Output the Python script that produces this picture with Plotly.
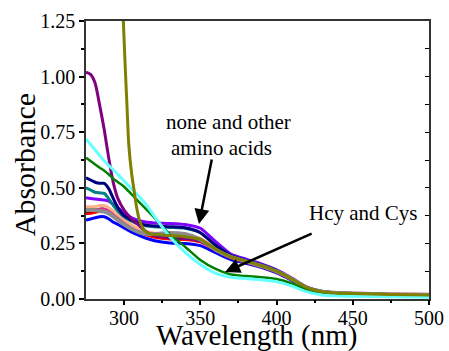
import plotly.graph_objects as go

# Wavelength grid (nm) shared by most spectra
wavelength = [275, 278, 281, 284, 287, 290, 293, 296, 300, 305, 310, 315, 320, 330, 340,
              350, 360, 370, 380, 390, 400, 410, 420, 430, 440, 450, 475, 500]

blue = [.355, .36, .365, .37, .37, .36, .345, .335, .32, .30, .285, .272, .262, .252, .25,
        .24, .208, .177, .161, .142, .117, .084, .047, .03, .025, .022, .018, .016]
red = [.385, .385, .39, .395, .395, .385, .37, .355, .335, .315, .30, .287, .278, .27, .268,
       .257, .22, .185, .166, .146, .121, .087, .05, .032, .026, .023, .019, .017]
black = [.395, .395, .40, .405, .405, .395, .38, .363, .342, .32, .305, .293, .285, .277, .274,
         .263, .223, .187, .167, .147, .122, .088, .05, .032, .026, .024, .02, .017]
magenta = [.40, .40, .40, .405, .405, .395, .38, .365, .345, .323, .308, .297, .29, .282, .28,
           .268, .226, .19, .17, .15, .125, .09, .052, .035, .03, .027, .024, .022]
peach = [.415, .415, .415, .42, .42, .41, .395, .378, .357, .333, .315, .303, .296, .29, .287,
         .272, .228, .19, .17, .15, .126, .09, .051, .033, .027, .025, .021, .018]
violet = [.455, .452, .45, .447, .445, .44, .425, .41, .385, .365, .352, .345, .342, .34, .335,
          .318, .258, .202, .179, .158, .131, .094, .053, .034, .028, .025, .02, .018]
teal = [.50, .49, .48, .477, .475, .45, .42, .395, .37, .35, .335, .328, .325, .322, .318,
        .298, .242, .196, .173, .153, .128, .091, .051, .033, .027, .024, .02, .017]
navy = [.545, .535, .525, .52, .52, .495, .45, .41, .375, .355, .34, .332, .328, .325, .32,
        .298, .242, .196, .173, .153, .128, .091, .051, .033, .027, .024, .02, .017]
purple = [1.02, 1.01, .97, .87, .76, .63, .52, .45, .40, .36, .33, .30, .285, .275, .272,
          .26, .222, .187, .168, .148, .123, .089, .05, .032, .026, .023, .019, .017]
grey = [.40, .40, .40, .395, .393, .385, .37, .355, .335, .315, .30, .293, .292, .297, .292,
        .267, .221, .189, .169, .149, .124, .09, .05, .033, .027, .025, .02, .018]
green = [.635, .62, .605, .59, .577, .56, .54, .525, .505, .47, .435, .40, .365, .29, .235,
         .175, .135, .11, .103, .098, .09, .07, .04, .025, .02, .018, .015, .012]
cyan = [.72, .695, .67, .645, .62, .60, .58, .56, .53, .495, .46, .42, .37, .28, .21,
        .155, .115, .098, .092, .086, .078, .058, .032, .018, .014, .012, .01, .008]

olive_wavelength = [296, 298, 299.5, 300.5, 302, 303, 305, 306.5, 308, 310, 313, 316, 320, 330,
                    340, 350, 360, 370, 380, 390, 400, 410, 420, 430, 440, 450, 475, 500]
olive = [2.2, 1.6, 1.25, 1.08, .85, .70, .56, .49, .42, .355, .31, .295, .29, .285,
         .28, .268, .225, .19, .17, .15, .125, .09, .05, .033, .027, .025, .02, .018]

x_ticks = [300, 350, 400, 450, 500]
y_ticks = [0, 0.25, 0.5, 0.75, 1.0, 1.25]
y_tick_labels = ["0.00", "0.25", "0.50", "0.75", "1.00", "1.25"]

series = [
    (blue, "#0000FF", 3), (red, "#FF0000", 3), (black, "#400000", 2.5),
    (magenta, "#E0308F", 2.5), (peach, "#FFB088", 3), (violet, "#8000FF", 3),
    (teal, "#008080", 3), (navy, "#000080", 3), (purple, "#800080", 3),
    (grey, "#8C8C8C", 4), (green, "#008000", 2.5), (cyan, "#66FFFF", 3),
]

fig = go.Figure()
for ys, col, w in series:
    fig.add_trace(go.Scatter(x=wavelength, y=ys, mode="lines",
                             line=dict(color=col, width=w, shape="spline", smoothing=0.6),
                             showlegend=False, hoverinfo="skip"))
fig.add_trace(go.Scatter(x=olive_wavelength, y=olive, mode="lines",
                         line=dict(color="#808000", width=3, shape="spline", smoothing=0.4),
                         showlegend=False, hoverinfo="skip"))
# invisible helper traces so the tick-only axes are drawn
fig.add_trace(go.Scatter(x=[275], y=[0], yaxis="y2", mode="markers",
                         marker=dict(opacity=0), showlegend=False, hoverinfo="skip"))
fig.add_trace(go.Scatter(x=[275], y=[0], xaxis="x2", mode="markers",
                         marker=dict(opacity=0), showlegend=False, hoverinfo="skip"))

FONT = "Times New Roman"
TF = dict(family=FONT, size=20, color="black")

fig.update_layout(
    width=449, height=351,
    margin=dict(l=86, r=20, t=21, b=52),
    paper_bgcolor="white", plot_bgcolor="white",
    font=dict(family=FONT, color="black", size=20),
    xaxis=dict(range=[275, 500], tickvals=x_ticks, automargin=False, ticks="",
               showline=True, linecolor="#333", linewidth=1.5, mirror=True,
               showgrid=False, zeroline=False, tickfont=TF),
    xaxis2=dict(range=[275, 500], overlaying="x", side="bottom", anchor="y",
                tickvals=x_ticks, showticklabels=False, automargin=False,
                ticks="outside", ticklen=5, tickwidth=1.5, tickcolor="black",
                minor=dict(tickvals=[325, 375, 425, 475], ticks="outside", ticklen=3,
                           tickcolor="black"),
                showline=False, showgrid=False, zeroline=False),
    yaxis=dict(range=[0, 1.25], tickvals=y_ticks, ticktext=y_tick_labels, automargin=False,
               ticks="outside", ticklen=5, tickwidth=1.5, tickcolor="black",
               minor=dict(tickvals=[0.125, 0.375, 0.625, 0.875, 1.125], ticks="outside",
                          ticklen=3, tickcolor="black"),
               showline=True, linecolor="#333", linewidth=1.5, mirror=True,
               showgrid=False, zeroline=False, tickfont=TF),
    yaxis2=dict(range=[0, 1.25], overlaying="y", side="right", showticklabels=False,
                tickvals=[0.125, 0.25, 0.375, 0.5, 0.625, 0.75, 0.875, 1.0, 1.125],
                ticks="inside", ticklen=4, tickcolor="black", showgrid=False,
                zeroline=False, showline=False, automargin=False),
)

# axis titles
fig.add_annotation(xref="paper", yref="paper", x=0.4985, y=-0.133, text="Wavelength (nm)",
                   showarrow=False, font=dict(family=FONT, size=29, color="black"),
                   xanchor="center", yanchor="middle")
fig.add_annotation(xref="paper", yref="paper", x=-0.18, y=0.482, text="Absorbance",
                   textangle=-90, showarrow=False,
                   font=dict(family=FONT, size=30, color="black"),
                   xanchor="center", yanchor="middle")

ann_font = dict(family=FONT, size=21, color="black")
fig.add_annotation(x=368.2, y=0.796, text="none and other", showarrow=False, font=ann_font)
fig.add_annotation(x=364.2, y=0.679, text="amino acids", showarrow=False, font=ann_font)
fig.add_annotation(x=456.8, y=0.387, text="Hcy and Cys", showarrow=False, font=ann_font)
fig.add_annotation(x=349.1, y=0.337, ax=357.7, ay=0.634, axref="x", ayref="y",
                   text="", showarrow=True, arrowhead=2, arrowsize=1.2, arrowwidth=2.5,
                   arrowcolor="black")
fig.add_annotation(x=366.2, y=0.121, ax=424, ay=0.297, axref="x", ayref="y",
                   text="", showarrow=True, arrowhead=2, arrowsize=1.2, arrowwidth=2.5,
                   arrowcolor="black")

fig.write_html("out.html")
